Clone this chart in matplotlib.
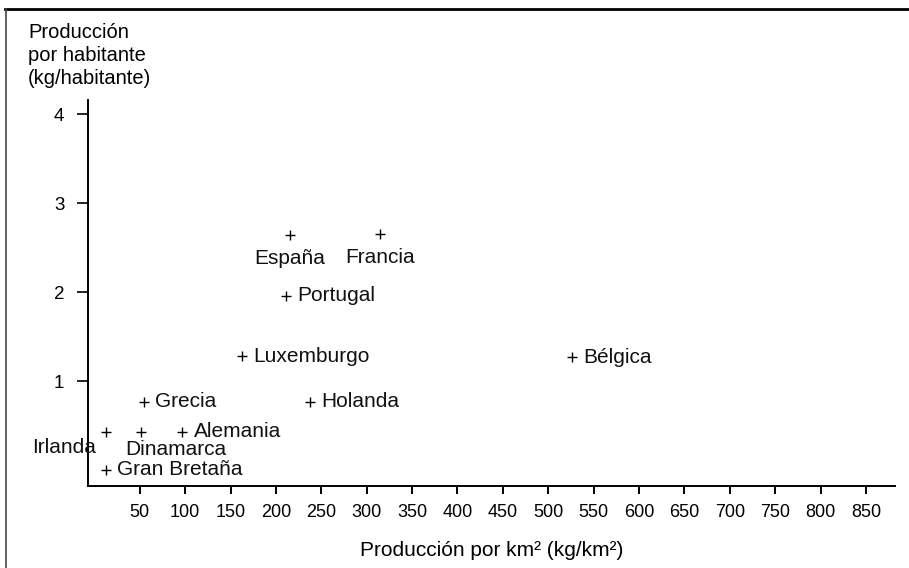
import matplotlib.pyplot as plt
from matplotlib.lines import Line2D

plt.rcParams["font.family"] = ["Liberation Sans", "DejaVu Sans"]

# datos
paises = ["España", "Francia", "Portugal", "Luxemburgo", "Bélgica", "Grecia",
          "Holanda", "Irlanda", "Dinamarca", "Alemania", "Gran Bretaña"]
prod_km2 = [215, 315, 211, 163, 526, 55, 238, 13, 51, 97, 13]
prod_hab = [2.64, 2.65, 1.96, 1.28, 1.27, 0.77, 0.77, 0.43, 0.43, 0.43, 0.0]
xticks = list(range(50, 851, 50))
yticks = [1, 2, 3, 4]

# colocacion de etiquetas: (dx, dy en puntos, ha)
derecha = (8, 0, "left")
colocacion = {
    "España": (0, -16.5, "center"),
    "Francia": (0, -16.5, "center"),
    "Irlanda": (-7, -11.5, "right"),
    "Dinamarca": (-11, -13, "left"),
}

fig = plt.figure(figsize=(9.09, 5.68), dpi=100)
ax = fig.add_axes([88 / 909, 1 - 486 / 568, (895 - 88) / 909, (486 - 100) / 568])

ax.plot(prod_km2, prod_hab, linestyle="none", marker="+", markersize=6.5,
        markeredgewidth=1, color="black")

for nombre, x, y in zip(paises, prod_km2, prod_hab):
    dx, dy, ha = colocacion.get(nombre, derecha)
    ax.annotate(nombre, (x, y), xytext=(dx, dy), textcoords="offset points",
                ha=ha, va="center", fontsize=15, color="#111111")

ax.set_xlim(-7, 882)
ax.set_ylim(-0.18, 4.16)
ax.set_xticks(xticks)
ax.set_yticks(yticks)
ax.set_xticklabels([str(t) for t in xticks],
                   family=["Liberation Sans Narrow", "Liberation Sans"], fontsize=13)
ax.set_yticklabels([str(t) for t in yticks], fontsize=13.5)

for lado in ["top", "right"]:
    ax.spines[lado].set_visible(False)
ax.spines["left"].set_linewidth(1.4)
ax.spines["bottom"].set_linewidth(1.4)
ax.tick_params(axis="x", direction="out", length=6, width=1.4, pad=7)
ax.tick_params(axis="y", direction="out", length=8, width=1.2, pad=9)

ax.set_xlabel("Producción por km² (kg/km²)", fontsize=15, labelpad=14)

fig.text(28 / 909, 1 - 23 / 568, "Producción\npor habitante\n(kg/habitante)",
         ha="left", va="top", fontsize=14.5, linespacing=1.25)

# marco del recorte
fig.add_artist(Line2D([5 / 909, 1], [1 - 9 / 568] * 2, transform=fig.transFigure,
                      color="black", linewidth=2))
fig.add_artist(Line2D([5.5 / 909] * 2, [0, 1 - 9 / 568], transform=fig.transFigure,
                      color="#444444", linewidth=1.2))

plt.savefig("out.png", dpi=100)
